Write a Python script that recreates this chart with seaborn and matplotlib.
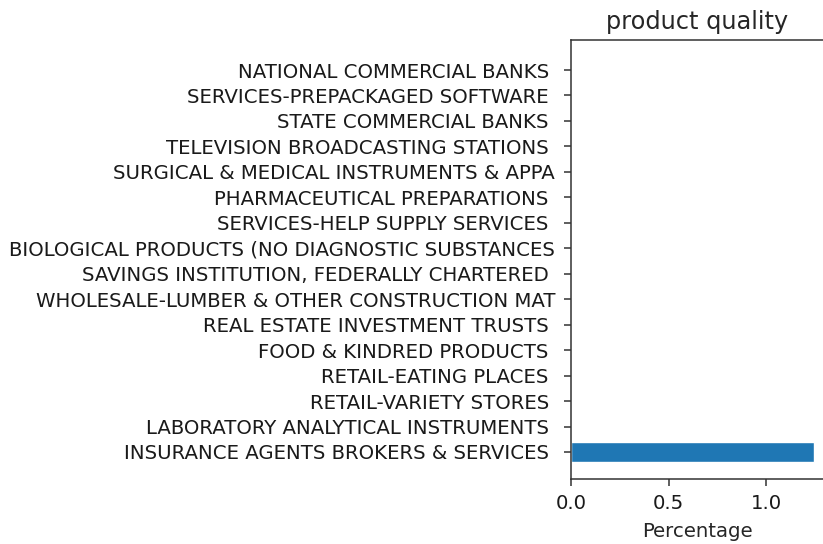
import matplotlib
matplotlib.use("Agg")
import matplotlib.pyplot as plt
import seaborn as sns
import pandas as pd

industries = [
    "NATIONAL COMMERCIAL BANKS ",
    "SERVICES-PREPACKAGED SOFTWARE ",
    "STATE COMMERCIAL BANKS ",
    "TELEVISION BROADCASTING STATIONS ",
    "SURGICAL & MEDICAL INSTRUMENTS & APPA",
    "PHARMACEUTICAL PREPARATIONS ",
    "SERVICES-HELP SUPPLY SERVICES ",
    "BIOLOGICAL PRODUCTS (NO DIAGNOSTIC SUBSTANCES",
    "SAVINGS INSTITUTION, FEDERALLY CHARTERED ",
    "WHOLESALE-LUMBER & OTHER CONSTRUCTION MAT",
    "REAL ESTATE INVESTMENT TRUSTS ",
    "FOOD & KINDRED PRODUCTS ",
    "RETAIL-EATING PLACES ",
    "RETAIL-VARIETY STORES ",
    "LABORATORY ANALYTICAL INSTRUMENTS ",
    "INSURANCE AGENTS BROKERS & SERVICES ",
]
percentage = [0, 0, 0, 0, 0, 0, 0, 0, 0, 0, 0, 0, 0, 0, 0, 1.242]

df = pd.DataFrame({"industry": industries, "Percentage": percentage})

sns.set_style("ticks")
plt.rcParams["font.family"] = ["DejaVu Sans"]

fig = plt.figure(figsize=(8.23, 5.44), dpi=100)
ax = fig.add_axes([0.6938, 0.1195, 0.3062, 0.807])

sns.barplot(data=df, x="Percentage", y="industry", orient="h",
            color="#1f77b4", saturation=1, width=0.75, ax=ax)

ax.set_xlim(0, 1.29)
ax.set_ylim(len(industries) - 1 + 1.06, -1.18)
ax.set_xticks([0.0, 0.5, 1.0])
ax.set_xticklabels(["0.0", "0.5", "1.0"])
ax.set_ylabel("")
ax.set_xlabel("Percentage", fontsize=14.2, labelpad=6)
ax.set_title("product quality", fontsize=17.3, pad=8)
ax.tick_params(axis="y", labelsize=14.23, pad=6.5)
ax.tick_params(axis="x", labelsize=14.2, pad=6)
ax.tick_params(length=5, width=1.1, colors="#333333", labelcolor="#1a1a1a")
for side in ["left", "bottom", "top"]:
    ax.spines[side].set_color("#333333")
    ax.spines[side].set_linewidth(1.1)
ax.spines["right"].set_visible(False)

fig.savefig("out.png", dpi=100)
